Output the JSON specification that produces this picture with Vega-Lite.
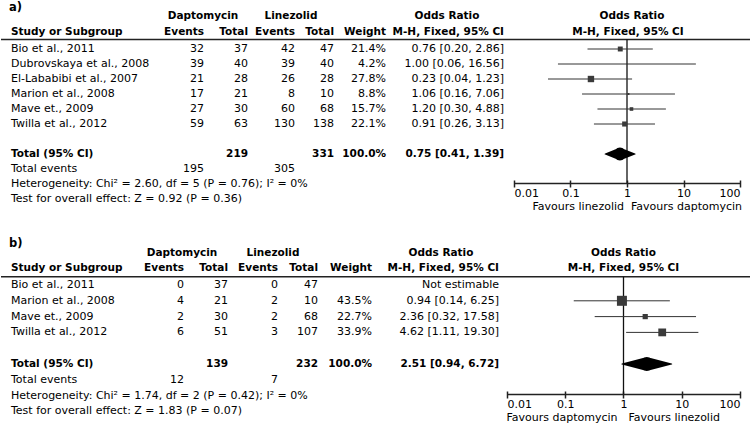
{
  "$schema": "https://vega.github.io/schema/vega-lite/v6.json",
  "padding": 0,
  "spacing": 0,
  "background": "white",
  "config": {
    "view": {"stroke": null},
    "font": "DejaVu Sans",
    "text": {"font": "DejaVu Sans", "fontSize": 11, "baseline": "middle", "color": "#000"}
  },
  "datasets": {
    "a": [
      {"row": 1, "study": "Bio et al., 2011", "dEv": 32, "dTot": 37, "lEv": 42, "lTot": 47, "weight": 0.214, "or": 0.76, "lo": 0.20, "hi": 2.86, "ci": "0.76 [0.20, 2.86]"},
      {"row": 2, "study": "Dubrovskaya et al., 2008", "dEv": 39, "dTot": 40, "lEv": 39, "lTot": 40, "weight": 0.042, "or": 1.00, "lo": 0.06, "hi": 16.56, "ci": "1.00 [0.06, 16.56]"},
      {"row": 3, "study": "El-Lababibi et al., 2007", "dEv": 21, "dTot": 28, "lEv": 26, "lTot": 28, "weight": 0.278, "or": 0.23, "lo": 0.04, "hi": 1.23, "ci": "0.23 [0.04, 1.23]"},
      {"row": 4, "study": "Marion et al., 2008", "dEv": 17, "dTot": 21, "lEv": 8, "lTot": 10, "weight": 0.088, "or": 1.06, "lo": 0.16, "hi": 7.06, "ci": "1.06 [0.16, 7.06]"},
      {"row": 5, "study": "Mave et., 2009", "dEv": 27, "dTot": 30, "lEv": 60, "lTot": 68, "weight": 0.157, "or": 1.20, "lo": 0.30, "hi": 4.88, "ci": "1.20 [0.30, 4.88]"},
      {"row": 6, "study": "Twilla et al., 2012", "dEv": 59, "dTot": 63, "lEv": 130, "lTot": 138, "weight": 0.221, "or": 0.91, "lo": 0.26, "hi": 3.13, "ci": "0.91 [0.26, 3.13]"},
      {"row": 8, "study": "Total (95% CI)", "dTot": 219, "lTot": 331, "weight": 1.0, "or": 0.75, "lo": 0.41, "hi": 1.39, "ci": "0.75 [0.41, 1.39]", "total": true},
      {"row": 9, "study": "Total events", "dEv": 195, "lEv": 305},
      {"row": 10, "study": "Heterogeneity: Chi² = 2.60, df = 5 (P = 0.76); I² = 0%"},
      {"row": 11, "study": "Test for overall effect: Z = 0.92 (P = 0.36)"}
    ],
    "b": [
      {"row": 1, "study": "Bio et al., 2011", "dEv": 0, "dTot": 37, "lEv": 0, "lTot": 47, "ci": "Not estimable"},
      {"row": 2, "study": "Marion et al., 2008", "dEv": 4, "dTot": 21, "lEv": 2, "lTot": 10, "weight": 0.435, "or": 0.94, "lo": 0.14, "hi": 6.25, "ci": "0.94 [0.14, 6.25]"},
      {"row": 3, "study": "Mave et., 2009", "dEv": 2, "dTot": 30, "lEv": 2, "lTot": 68, "weight": 0.227, "or": 2.36, "lo": 0.32, "hi": 17.58, "ci": "2.36 [0.32, 17.58]"},
      {"row": 4, "study": "Twilla et al., 2012", "dEv": 6, "dTot": 51, "lEv": 3, "lTot": 107, "weight": 0.339, "or": 4.62, "lo": 1.11, "hi": 19.30, "ci": "4.62 [1.11, 19.30]"},
      {"row": 6, "study": "Total (95% CI)", "dTot": 139, "lTot": 232, "weight": 1.0, "or": 2.51, "lo": 0.94, "hi": 6.72, "ci": "2.51 [0.94, 6.72]", "total": true},
      {"row": 7, "study": "Total events", "dEv": 12, "lEv": 7},
      {"row": 8, "study": "Heterogeneity: Chi² = 1.74, df = 2 (P = 0.42); I² = 0%"},
      {"row": 9, "study": "Test for overall effect: Z = 1.83 (P = 0.07)"}
    ]
  },
  "vconcat": [
    {
      "spacing": 0,
      "bounds": "flush",
      "hconcat": [
        {
          "width": 500,
          "height": 216,
          "data": {"name": "a"},
          "layer": [
            {"data": {"values": [{"line": "header"}]}, "mark": {"type": "rule", "color": "#222", "strokeWidth": 1.5},
             "encoding": {"y": {"datum": 0.36, "type": "quantitative", "scale": {"domain": [-2.267, 12.133], "reverse": true, "nice": false, "zero": false}, "axis": null}}},
            {"data": {"values": [{"t": "a)"}]}, "mark": {"type": "text", "align": "left", "fontWeight": "bold", "fontSize": 11.5},
             "encoding": {"x": {"datum": 8, "type": "quantitative", "scale": {"domain": [0, 500], "nice": false, "zero": false}, "axis": null},
                          "y": {"datum": -1.73, "type": "quantitative", "scale": {"domain": [-2.267, 12.133], "reverse": true, "nice": false, "zero": false}, "axis": null},
                          "text": {"field": "t"}}},
            {"data": {"values": [{"t": "Daptomycin"}]}, "mark": {"type": "text", "align": "center", "fontWeight": "bold", "fontSize": 10.5},
             "encoding": {"x": {"datum": 202, "type": "quantitative", "scale": {"domain": [0, 500], "nice": false, "zero": false}, "axis": null},
                          "y": {"datum": -1.2, "type": "quantitative", "scale": {"domain": [-2.267, 12.133], "reverse": true, "nice": false, "zero": false}, "axis": null},
                          "text": {"field": "t"}}},
            {"data": {"values": [{"t": "Linezolid"}]}, "mark": {"type": "text", "align": "center", "fontWeight": "bold", "fontSize": 10.5},
             "encoding": {"x": {"datum": 290, "type": "quantitative", "scale": {"domain": [0, 500], "nice": false, "zero": false}, "axis": null},
                          "y": {"datum": -1.2, "type": "quantitative", "scale": {"domain": [-2.267, 12.133], "reverse": true, "nice": false, "zero": false}, "axis": null},
                          "text": {"field": "t"}}},
            {"data": {"values": [{"t": "Odds Ratio"}]}, "mark": {"type": "text", "align": "center", "fontWeight": "bold", "fontSize": 10.5},
             "encoding": {"x": {"datum": 446, "type": "quantitative", "scale": {"domain": [0, 500], "nice": false, "zero": false}, "axis": null},
                          "y": {"datum": -1.2, "type": "quantitative", "scale": {"domain": [-2.267, 12.133], "reverse": true, "nice": false, "zero": false}, "axis": null},
                          "text": {"field": "t"}}},
            {"data": {"values": [{"t": "Study or Subgroup"}]}, "mark": {"type": "text", "align": "left", "fontWeight": "bold", "fontSize": 10.5},
             "encoding": {"x": {"datum": 10, "type": "quantitative", "scale": {"domain": [0, 500], "nice": false, "zero": false}, "axis": null},
                          "y": {"datum": -0.13, "type": "quantitative", "scale": {"domain": [-2.267, 12.133], "reverse": true, "nice": false, "zero": false}, "axis": null},
                          "text": {"field": "t"}}},
            {"data": {"values": [{"t": "Events"}]}, "mark": {"type": "text", "align": "right", "fontWeight": "bold", "fontSize": 10.5},
             "encoding": {"x": {"datum": 203, "type": "quantitative", "scale": {"domain": [0, 500], "nice": false, "zero": false}, "axis": null},
                          "y": {"datum": -0.13, "type": "quantitative", "scale": {"domain": [-2.267, 12.133], "reverse": true, "nice": false, "zero": false}, "axis": null},
                          "text": {"field": "t"}}},
            {"data": {"values": [{"t": "Total"}]}, "mark": {"type": "text", "align": "right", "fontWeight": "bold", "fontSize": 10.5},
             "encoding": {"x": {"datum": 247, "type": "quantitative", "scale": {"domain": [0, 500], "nice": false, "zero": false}, "axis": null},
                          "y": {"datum": -0.13, "type": "quantitative", "scale": {"domain": [-2.267, 12.133], "reverse": true, "nice": false, "zero": false}, "axis": null},
                          "text": {"field": "t"}}},
            {"data": {"values": [{"t": "Events"}]}, "mark": {"type": "text", "align": "right", "fontWeight": "bold", "fontSize": 10.5},
             "encoding": {"x": {"datum": 294, "type": "quantitative", "scale": {"domain": [0, 500], "nice": false, "zero": false}, "axis": null},
                          "y": {"datum": -0.13, "type": "quantitative", "scale": {"domain": [-2.267, 12.133], "reverse": true, "nice": false, "zero": false}, "axis": null},
                          "text": {"field": "t"}}},
            {"data": {"values": [{"t": "Total"}]}, "mark": {"type": "text", "align": "right", "fontWeight": "bold", "fontSize": 10.5},
             "encoding": {"x": {"datum": 333, "type": "quantitative", "scale": {"domain": [0, 500], "nice": false, "zero": false}, "axis": null},
                          "y": {"datum": -0.13, "type": "quantitative", "scale": {"domain": [-2.267, 12.133], "reverse": true, "nice": false, "zero": false}, "axis": null},
                          "text": {"field": "t"}}},
            {"data": {"values": [{"t": "Weight"}]}, "mark": {"type": "text", "align": "right", "fontWeight": "bold", "fontSize": 10.5},
             "encoding": {"x": {"datum": 385, "type": "quantitative", "scale": {"domain": [0, 500], "nice": false, "zero": false}, "axis": null},
                          "y": {"datum": -0.13, "type": "quantitative", "scale": {"domain": [-2.267, 12.133], "reverse": true, "nice": false, "zero": false}, "axis": null},
                          "text": {"field": "t"}}},
            {"data": {"values": [{"t": "M-H, Fixed, 95% CI"}]}, "mark": {"type": "text", "align": "right", "fontWeight": "bold", "fontSize": 10.5},
             "encoding": {"x": {"datum": 503, "type": "quantitative", "scale": {"domain": [0, 500], "nice": false, "zero": false}, "axis": null},
                          "y": {"datum": -0.13, "type": "quantitative", "scale": {"domain": [-2.267, 12.133], "reverse": true, "nice": false, "zero": false}, "axis": null},
                          "text": {"field": "t"}}},
            {"transform": [{"filter": "!datum.total"}], "mark": {"type": "text", "align": "left"},
             "encoding": {"x": {"datum": 10, "type": "quantitative", "scale": {"domain": [0, 500], "nice": false, "zero": false}, "axis": null},
                          "y": {"field": "row", "type": "quantitative", "scale": {"domain": [-2.267, 12.133], "reverse": true, "nice": false, "zero": false}, "axis": null},
                          "text": {"field": "study", "type": "nominal"}}},
            {"transform": [{"filter": "datum.total"}], "mark": {"type": "text", "align": "left", "fontWeight": "bold", "fontSize": 10.5},
             "encoding": {"x": {"datum": 10, "type": "quantitative", "scale": {"domain": [0, 500], "nice": false, "zero": false}, "axis": null},
                          "y": {"field": "row", "type": "quantitative", "scale": {"domain": [-2.267, 12.133], "reverse": true, "nice": false, "zero": false}, "axis": null},
                          "text": {"field": "study", "type": "nominal"}}},
            {"transform": [{"filter": "isValid(datum.dEv)"}], "mark": {"type": "text", "align": "right"},
             "encoding": {"x": {"datum": 203, "type": "quantitative", "scale": {"domain": [0, 500], "nice": false, "zero": false}, "axis": null},
                          "y": {"field": "row", "type": "quantitative", "scale": {"domain": [-2.267, 12.133], "reverse": true, "nice": false, "zero": false}, "axis": null},
                          "text": {"field": "dEv", "type": "quantitative", "format": "d"}}},
            {"transform": [{"filter": "isValid(datum.dTot) && !datum.total"}], "mark": {"type": "text", "align": "right"},
             "encoding": {"x": {"datum": 247, "type": "quantitative", "scale": {"domain": [0, 500], "nice": false, "zero": false}, "axis": null},
                          "y": {"field": "row", "type": "quantitative", "scale": {"domain": [-2.267, 12.133], "reverse": true, "nice": false, "zero": false}, "axis": null},
                          "text": {"field": "dTot", "type": "quantitative", "format": "d"}}},
            {"transform": [{"filter": "datum.total"}], "mark": {"type": "text", "align": "right", "fontWeight": "bold", "fontSize": 10.5},
             "encoding": {"x": {"datum": 247, "type": "quantitative", "scale": {"domain": [0, 500], "nice": false, "zero": false}, "axis": null},
                          "y": {"field": "row", "type": "quantitative", "scale": {"domain": [-2.267, 12.133], "reverse": true, "nice": false, "zero": false}, "axis": null},
                          "text": {"field": "dTot", "type": "quantitative", "format": "d"}}},
            {"transform": [{"filter": "isValid(datum.lEv)"}], "mark": {"type": "text", "align": "right"},
             "encoding": {"x": {"datum": 294, "type": "quantitative", "scale": {"domain": [0, 500], "nice": false, "zero": false}, "axis": null},
                          "y": {"field": "row", "type": "quantitative", "scale": {"domain": [-2.267, 12.133], "reverse": true, "nice": false, "zero": false}, "axis": null},
                          "text": {"field": "lEv", "type": "quantitative", "format": "d"}}},
            {"transform": [{"filter": "isValid(datum.lTot) && !datum.total"}], "mark": {"type": "text", "align": "right"},
             "encoding": {"x": {"datum": 333, "type": "quantitative", "scale": {"domain": [0, 500], "nice": false, "zero": false}, "axis": null},
                          "y": {"field": "row", "type": "quantitative", "scale": {"domain": [-2.267, 12.133], "reverse": true, "nice": false, "zero": false}, "axis": null},
                          "text": {"field": "lTot", "type": "quantitative", "format": "d"}}},
            {"transform": [{"filter": "datum.total"}], "mark": {"type": "text", "align": "right", "fontWeight": "bold", "fontSize": 10.5},
             "encoding": {"x": {"datum": 333, "type": "quantitative", "scale": {"domain": [0, 500], "nice": false, "zero": false}, "axis": null},
                          "y": {"field": "row", "type": "quantitative", "scale": {"domain": [-2.267, 12.133], "reverse": true, "nice": false, "zero": false}, "axis": null},
                          "text": {"field": "lTot", "type": "quantitative", "format": "d"}}},
            {"transform": [{"filter": "isValid(datum.weight) && !datum.total"}], "mark": {"type": "text", "align": "right"},
             "encoding": {"x": {"datum": 385, "type": "quantitative", "scale": {"domain": [0, 500], "nice": false, "zero": false}, "axis": null},
                          "y": {"field": "row", "type": "quantitative", "scale": {"domain": [-2.267, 12.133], "reverse": true, "nice": false, "zero": false}, "axis": null},
                          "text": {"field": "weight", "type": "quantitative", "format": ".1%"}}},
            {"transform": [{"filter": "datum.total"}], "mark": {"type": "text", "align": "right", "fontWeight": "bold", "fontSize": 10.5},
             "encoding": {"x": {"datum": 385, "type": "quantitative", "scale": {"domain": [0, 500], "nice": false, "zero": false}, "axis": null},
                          "y": {"field": "row", "type": "quantitative", "scale": {"domain": [-2.267, 12.133], "reverse": true, "nice": false, "zero": false}, "axis": null},
                          "text": {"field": "weight", "type": "quantitative", "format": ".1%"}}},
            {"transform": [{"filter": "isValid(datum.ci) && !datum.total"}], "mark": {"type": "text", "align": "right"},
             "encoding": {"x": {"datum": 503, "type": "quantitative", "scale": {"domain": [0, 500], "nice": false, "zero": false}, "axis": null},
                          "y": {"field": "row", "type": "quantitative", "scale": {"domain": [-2.267, 12.133], "reverse": true, "nice": false, "zero": false}, "axis": null},
                          "text": {"field": "ci", "type": "nominal"}}},
            {"transform": [{"filter": "datum.total"}], "mark": {"type": "text", "align": "right", "fontWeight": "bold", "fontSize": 10.5},
             "encoding": {"x": {"datum": 503, "type": "quantitative", "scale": {"domain": [0, 500], "nice": false, "zero": false}, "axis": null},
                          "y": {"field": "row", "type": "quantitative", "scale": {"domain": [-2.267, 12.133], "reverse": true, "nice": false, "zero": false}, "axis": null},
                          "text": {"field": "ci", "type": "nominal"}}}
          ]
        },
        {
          "width": 250,
          "height": 180,
          "data": {"name": "a"},
          "layer": [
            {"data": {"values": [{"line": "header"}]}, "mark": {"type": "rule", "color": "#222", "strokeWidth": 1.5},
             "encoding": {"y": {"datum": 0.36, "type": "quantitative", "scale": {"domain": [-2.267, 9.733], "reverse": true, "nice": false, "zero": false}, "axis": null}}},
            {"data": {"values": [{"t": "Odds Ratio"}]}, "mark": {"type": "text", "align": "center", "fontWeight": "bold", "fontSize": 10.5, "dx": 5},
             "encoding": {"x": {"datum": 1, "type": "quantitative", "scale": {"type": "log", "domain": [0.005888, 156.55], "nice": false},
                                "axis": {"orient": "bottom", "values": [0.01, 0.1, 1, 10, 100], "format": "~g", "domain": false, "grid": false, "ticks": true, "tickSize": 7, "tickWidth": 1.5, "tickColor": "#222", "labelFlush": 15, "labelFontSize": 11, "labelColor": "#000", "labelPadding": 0, "labelFont": "DejaVu Sans", "labelOverlap": false, "title": null}},
                          "y": {"datum": -1.2, "type": "quantitative", "scale": {"domain": [-2.267, 9.733], "reverse": true, "nice": false, "zero": false}, "axis": null},
                          "text": {"field": "t"}}},
            {"data": {"values": [{"t": "M-H, Fixed, 95% CI"}]}, "mark": {"type": "text", "align": "center", "fontWeight": "bold", "fontSize": 10.5, "dx": 1},
             "encoding": {"x": {"datum": 1, "type": "quantitative", "scale": {"type": "log", "domain": [0.005888, 156.55], "nice": false},
                                "axis": {"orient": "bottom", "values": [0.01, 0.1, 1, 10, 100], "format": "~g", "domain": false, "grid": false, "ticks": true, "tickSize": 7, "tickWidth": 1.5, "tickColor": "#222", "labelFlush": 15, "labelFontSize": 11, "labelColor": "#000", "labelPadding": 0, "labelFont": "DejaVu Sans", "labelOverlap": false, "title": null}},
                          "y": {"datum": -0.13, "type": "quantitative", "scale": {"domain": [-2.267, 9.733], "reverse": true, "nice": false, "zero": false}, "axis": null},
                          "text": {"field": "t"}}},
            {"data": {"values": [{"ref": 1}]}, "mark": {"type": "rule", "color": "#111", "strokeWidth": 1.3},
             "encoding": {"x": {"field": "ref", "type": "quantitative", "scale": {"type": "log", "domain": [0.005888, 156.55], "nice": false},
                                "axis": {"orient": "bottom", "values": [0.01, 0.1, 1, 10, 100], "format": "~g", "domain": false, "grid": false, "ticks": true, "tickSize": 7, "tickWidth": 1.5, "tickColor": "#222", "labelFlush": 15, "labelFontSize": 11, "labelColor": "#000", "labelPadding": 0, "labelFont": "DejaVu Sans", "labelOverlap": false, "title": null}},
                          "y": {"datum": 0.36, "type": "quantitative", "scale": {"domain": [-2.267, 9.733], "reverse": true, "nice": false, "zero": false}, "axis": null},
                          "y2": {"datum": 9.97}}},
            {"data": {"values": [{"from": 0.01, "to": 100}]}, "mark": {"type": "rule", "color": "#222", "strokeWidth": 1.5},
             "encoding": {"x": {"field": "from", "type": "quantitative", "scale": {"type": "log", "domain": [0.005888, 156.55], "nice": false},
                                "axis": {"orient": "bottom", "values": [0.01, 0.1, 1, 10, 100], "format": "~g", "domain": false, "grid": false, "ticks": true, "tickSize": 7, "tickWidth": 1.5, "tickColor": "#222", "labelFlush": 15, "labelFontSize": 11, "labelColor": "#000", "labelPadding": 0, "labelFont": "DejaVu Sans", "labelOverlap": false, "title": null}},
                          "x2": {"field": "to"},
                          "y": {"datum": 9.97, "type": "quantitative", "scale": {"domain": [-2.267, 9.733], "reverse": true, "nice": false, "zero": false}, "axis": null}}},
            {"transform": [{"filter": "isValid(datum.or) && !datum.total"}], "mark": {"type": "rule", "color": "#333", "strokeWidth": 1},
             "encoding": {"x": {"field": "lo", "type": "quantitative", "scale": {"type": "log", "domain": [0.005888, 156.55], "nice": false},
                                "axis": {"orient": "bottom", "values": [0.01, 0.1, 1, 10, 100], "format": "~g", "domain": false, "grid": false, "ticks": true, "tickSize": 7, "tickWidth": 1.5, "tickColor": "#222", "labelFlush": 15, "labelFontSize": 11, "labelColor": "#000", "labelPadding": 0, "labelFont": "DejaVu Sans", "labelOverlap": false, "title": null}},
                          "x2": {"field": "hi"},
                          "y": {"field": "row", "type": "quantitative", "scale": {"domain": [-2.267, 9.733], "reverse": true, "nice": false, "zero": false}, "axis": null}}},
            {"transform": [{"filter": "isValid(datum.or) && !datum.total"}], "mark": {"type": "square", "color": "#3a3a3a", "opacity": 1},
             "encoding": {"x": {"field": "or", "type": "quantitative", "scale": {"type": "log", "domain": [0.005888, 156.55], "nice": false},
                                "axis": {"orient": "bottom", "values": [0.01, 0.1, 1, 10, 100], "format": "~g", "domain": false, "grid": false, "ticks": true, "tickSize": 7, "tickWidth": 1.5, "tickColor": "#222", "labelFlush": 15, "labelFontSize": 11, "labelColor": "#000", "labelPadding": 0, "labelFont": "DejaVu Sans", "labelOverlap": false, "title": null}},
                          "y": {"field": "row", "type": "quantitative", "scale": {"domain": [-2.267, 9.733], "reverse": true, "nice": false, "zero": false}, "axis": null},
                          "size": {"field": "weight", "type": "quantitative", "scale": {"type": "pow", "exponent": 2, "domain": [0, 1], "range": [0, 529]}, "legend": null}}},
            {"transform": [{"filter": "datum.total"}, {"fold": ["lo", "or", "hi"], "as": ["k", "v"]}], "mark": {"type": "trail", "color": "#000"},
             "encoding": {"x": {"field": "v", "type": "quantitative", "scale": {"type": "log", "domain": [0.005888, 156.55], "nice": false},
                                "axis": {"orient": "bottom", "values": [0.01, 0.1, 1, 10, 100], "format": "~g", "domain": false, "grid": false, "ticks": true, "tickSize": 7, "tickWidth": 1.5, "tickColor": "#222", "labelFlush": 15, "labelFontSize": 11, "labelColor": "#000", "labelPadding": 0, "labelFont": "DejaVu Sans", "labelOverlap": false, "title": null}},
                          "y": {"field": "row", "type": "quantitative", "scale": {"domain": [-2.267, 9.733], "reverse": true, "nice": false, "zero": false}, "axis": null},
                          "size": {"condition": {"test": "datum.k === 'or'", "value": 13}, "value": 0}}},
            {"data": {"values": [{"t": "Favours linezolid"}]}, "mark": {"type": "text", "align": "right", "dx": -3},
             "encoding": {"x": {"datum": 1, "type": "quantitative", "scale": {"type": "log", "domain": [0.005888, 156.55], "nice": false},
                                "axis": {"orient": "bottom", "values": [0.01, 0.1, 1, 10, 100], "format": "~g", "domain": false, "grid": false, "ticks": true, "tickSize": 7, "tickWidth": 1.5, "tickColor": "#222", "labelFlush": 15, "labelFontSize": 11, "labelColor": "#000", "labelPadding": 0, "labelFont": "DejaVu Sans", "labelOverlap": false, "title": null}},
                          "y": {"datum": 11.5, "type": "quantitative", "scale": {"domain": [-2.267, 9.733], "reverse": true, "nice": false, "zero": false}, "axis": null},
                          "text": {"field": "t"}}},
            {"data": {"values": [{"t": "Favours daptomycin"}]}, "mark": {"type": "text", "align": "left", "dx": 4},
             "encoding": {"x": {"datum": 1, "type": "quantitative", "scale": {"type": "log", "domain": [0.005888, 156.55], "nice": false},
                                "axis": {"orient": "bottom", "values": [0.01, 0.1, 1, 10, 100], "format": "~g", "domain": false, "grid": false, "ticks": true, "tickSize": 7, "tickWidth": 1.5, "tickColor": "#222", "labelFlush": 15, "labelFontSize": 11, "labelColor": "#000", "labelPadding": 0, "labelFont": "DejaVu Sans", "labelOverlap": false, "title": null}},
                          "y": {"datum": 11.5, "type": "quantitative", "scale": {"domain": [-2.267, 9.733], "reverse": true, "nice": false, "zero": false}, "axis": null},
                          "text": {"field": "t"}}}
          ]
        }
      ]
    },
    {
      "spacing": 0,
      "bounds": "flush",
      "hconcat": [
        {
          "width": 500,
          "height": 209,
          "data": {"name": "b"},
          "layer": [
            {"data": {"values": [{"line": "header"}]}, "mark": {"type": "rule", "color": "#222", "strokeWidth": 1.5},
             "encoding": {"y": {"datum": 0.48, "type": "quantitative", "scale": {"domain": [-3.367, 9.861], "reverse": true, "nice": false, "zero": false}, "axis": null}}},
            {"data": {"values": [{"t": "b)"}]}, "mark": {"type": "text", "align": "left", "fontWeight": "bold", "fontSize": 11.5},
             "encoding": {"x": {"datum": 8, "type": "quantitative", "scale": {"domain": [0, 500], "nice": false, "zero": false}, "axis": null},
                          "y": {"datum": -1.62, "type": "quantitative", "scale": {"domain": [-3.367, 9.861], "reverse": true, "nice": false, "zero": false}, "axis": null},
                          "text": {"field": "t"}}},
            {"data": {"values": [{"t": "Daptomycin"}]}, "mark": {"type": "text", "align": "center", "fontWeight": "bold", "fontSize": 10.5},
             "encoding": {"x": {"datum": 181, "type": "quantitative", "scale": {"domain": [0, 500], "nice": false, "zero": false}, "axis": null},
                          "y": {"datum": -1.03, "type": "quantitative", "scale": {"domain": [-3.367, 9.861], "reverse": true, "nice": false, "zero": false}, "axis": null},
                          "text": {"field": "t"}}},
            {"data": {"values": [{"t": "Linezolid"}]}, "mark": {"type": "text", "align": "center", "fontWeight": "bold", "fontSize": 10.5},
             "encoding": {"x": {"datum": 272, "type": "quantitative", "scale": {"domain": [0, 500], "nice": false, "zero": false}, "axis": null},
                          "y": {"datum": -1.03, "type": "quantitative", "scale": {"domain": [-3.367, 9.861], "reverse": true, "nice": false, "zero": false}, "axis": null},
                          "text": {"field": "t"}}},
            {"data": {"values": [{"t": "Odds Ratio"}]}, "mark": {"type": "text", "align": "center", "fontWeight": "bold", "fontSize": 10.5},
             "encoding": {"x": {"datum": 440, "type": "quantitative", "scale": {"domain": [0, 500], "nice": false, "zero": false}, "axis": null},
                          "y": {"datum": -1.03, "type": "quantitative", "scale": {"domain": [-3.367, 9.861], "reverse": true, "nice": false, "zero": false}, "axis": null},
                          "text": {"field": "t"}}},
            {"data": {"values": [{"t": "Study or Subgroup"}]}, "mark": {"type": "text", "align": "left", "fontWeight": "bold", "fontSize": 10.5},
             "encoding": {"x": {"datum": 10, "type": "quantitative", "scale": {"domain": [0, 500], "nice": false, "zero": false}, "axis": null},
                          "y": {"datum": -0.08, "type": "quantitative", "scale": {"domain": [-3.367, 9.861], "reverse": true, "nice": false, "zero": false}, "axis": null},
                          "text": {"field": "t"}}},
            {"data": {"values": [{"t": "Events"}]}, "mark": {"type": "text", "align": "right", "fontWeight": "bold", "fontSize": 10.5},
             "encoding": {"x": {"datum": 183, "type": "quantitative", "scale": {"domain": [0, 500], "nice": false, "zero": false}, "axis": null},
                          "y": {"datum": -0.08, "type": "quantitative", "scale": {"domain": [-3.367, 9.861], "reverse": true, "nice": false, "zero": false}, "axis": null},
                          "text": {"field": "t"}}},
            {"data": {"values": [{"t": "Total"}]}, "mark": {"type": "text", "align": "right", "fontWeight": "bold", "fontSize": 10.5},
             "encoding": {"x": {"datum": 227, "type": "quantitative", "scale": {"domain": [0, 500], "nice": false, "zero": false}, "axis": null},
                          "y": {"datum": -0.08, "type": "quantitative", "scale": {"domain": [-3.367, 9.861], "reverse": true, "nice": false, "zero": false}, "axis": null},
                          "text": {"field": "t"}}},
            {"data": {"values": [{"t": "Events"}]}, "mark": {"type": "text", "align": "right", "fontWeight": "bold", "fontSize": 10.5},
             "encoding": {"x": {"datum": 277, "type": "quantitative", "scale": {"domain": [0, 500], "nice": false, "zero": false}, "axis": null},
                          "y": {"datum": -0.08, "type": "quantitative", "scale": {"domain": [-3.367, 9.861], "reverse": true, "nice": false, "zero": false}, "axis": null},
                          "text": {"field": "t"}}},
            {"data": {"values": [{"t": "Total"}]}, "mark": {"type": "text", "align": "right", "fontWeight": "bold", "fontSize": 10.5},
             "encoding": {"x": {"datum": 317, "type": "quantitative", "scale": {"domain": [0, 500], "nice": false, "zero": false}, "axis": null},
                          "y": {"datum": -0.08, "type": "quantitative", "scale": {"domain": [-3.367, 9.861], "reverse": true, "nice": false, "zero": false}, "axis": null},
                          "text": {"field": "t"}}},
            {"data": {"values": [{"t": "Weight"}]}, "mark": {"type": "text", "align": "right", "fontWeight": "bold", "fontSize": 10.5},
             "encoding": {"x": {"datum": 371, "type": "quantitative", "scale": {"domain": [0, 500], "nice": false, "zero": false}, "axis": null},
                          "y": {"datum": -0.08, "type": "quantitative", "scale": {"domain": [-3.367, 9.861], "reverse": true, "nice": false, "zero": false}, "axis": null},
                          "text": {"field": "t"}}},
            {"data": {"values": [{"t": "M-H, Fixed, 95% CI"}]}, "mark": {"type": "text", "align": "right", "fontWeight": "bold", "fontSize": 10.5},
             "encoding": {"x": {"datum": 498, "type": "quantitative", "scale": {"domain": [0, 500], "nice": false, "zero": false}, "axis": null},
                          "y": {"datum": -0.08, "type": "quantitative", "scale": {"domain": [-3.367, 9.861], "reverse": true, "nice": false, "zero": false}, "axis": null},
                          "text": {"field": "t"}}},
            {"transform": [{"filter": "!datum.total"}], "mark": {"type": "text", "align": "left"},
             "encoding": {"x": {"datum": 10, "type": "quantitative", "scale": {"domain": [0, 500], "nice": false, "zero": false}, "axis": null},
                          "y": {"field": "row", "type": "quantitative", "scale": {"domain": [-3.367, 9.861], "reverse": true, "nice": false, "zero": false}, "axis": null},
                          "text": {"field": "study", "type": "nominal"}}},
            {"transform": [{"filter": "datum.total"}], "mark": {"type": "text", "align": "left", "fontWeight": "bold", "fontSize": 10.5},
             "encoding": {"x": {"datum": 10, "type": "quantitative", "scale": {"domain": [0, 500], "nice": false, "zero": false}, "axis": null},
                          "y": {"field": "row", "type": "quantitative", "scale": {"domain": [-3.367, 9.861], "reverse": true, "nice": false, "zero": false}, "axis": null},
                          "text": {"field": "study", "type": "nominal"}}},
            {"transform": [{"filter": "isValid(datum.dEv)"}], "mark": {"type": "text", "align": "right"},
             "encoding": {"x": {"datum": 183, "type": "quantitative", "scale": {"domain": [0, 500], "nice": false, "zero": false}, "axis": null},
                          "y": {"field": "row", "type": "quantitative", "scale": {"domain": [-3.367, 9.861], "reverse": true, "nice": false, "zero": false}, "axis": null},
                          "text": {"field": "dEv", "type": "quantitative", "format": "d"}}},
            {"transform": [{"filter": "isValid(datum.dTot) && !datum.total"}], "mark": {"type": "text", "align": "right"},
             "encoding": {"x": {"datum": 227, "type": "quantitative", "scale": {"domain": [0, 500], "nice": false, "zero": false}, "axis": null},
                          "y": {"field": "row", "type": "quantitative", "scale": {"domain": [-3.367, 9.861], "reverse": true, "nice": false, "zero": false}, "axis": null},
                          "text": {"field": "dTot", "type": "quantitative", "format": "d"}}},
            {"transform": [{"filter": "datum.total"}], "mark": {"type": "text", "align": "right", "fontWeight": "bold", "fontSize": 10.5},
             "encoding": {"x": {"datum": 227, "type": "quantitative", "scale": {"domain": [0, 500], "nice": false, "zero": false}, "axis": null},
                          "y": {"field": "row", "type": "quantitative", "scale": {"domain": [-3.367, 9.861], "reverse": true, "nice": false, "zero": false}, "axis": null},
                          "text": {"field": "dTot", "type": "quantitative", "format": "d"}}},
            {"transform": [{"filter": "isValid(datum.lEv)"}], "mark": {"type": "text", "align": "right"},
             "encoding": {"x": {"datum": 277, "type": "quantitative", "scale": {"domain": [0, 500], "nice": false, "zero": false}, "axis": null},
                          "y": {"field": "row", "type": "quantitative", "scale": {"domain": [-3.367, 9.861], "reverse": true, "nice": false, "zero": false}, "axis": null},
                          "text": {"field": "lEv", "type": "quantitative", "format": "d"}}},
            {"transform": [{"filter": "isValid(datum.lTot) && !datum.total"}], "mark": {"type": "text", "align": "right"},
             "encoding": {"x": {"datum": 317, "type": "quantitative", "scale": {"domain": [0, 500], "nice": false, "zero": false}, "axis": null},
                          "y": {"field": "row", "type": "quantitative", "scale": {"domain": [-3.367, 9.861], "reverse": true, "nice": false, "zero": false}, "axis": null},
                          "text": {"field": "lTot", "type": "quantitative", "format": "d"}}},
            {"transform": [{"filter": "datum.total"}], "mark": {"type": "text", "align": "right", "fontWeight": "bold", "fontSize": 10.5},
             "encoding": {"x": {"datum": 317, "type": "quantitative", "scale": {"domain": [0, 500], "nice": false, "zero": false}, "axis": null},
                          "y": {"field": "row", "type": "quantitative", "scale": {"domain": [-3.367, 9.861], "reverse": true, "nice": false, "zero": false}, "axis": null},
                          "text": {"field": "lTot", "type": "quantitative", "format": "d"}}},
            {"transform": [{"filter": "isValid(datum.weight) && !datum.total"}], "mark": {"type": "text", "align": "right"},
             "encoding": {"x": {"datum": 371, "type": "quantitative", "scale": {"domain": [0, 500], "nice": false, "zero": false}, "axis": null},
                          "y": {"field": "row", "type": "quantitative", "scale": {"domain": [-3.367, 9.861], "reverse": true, "nice": false, "zero": false}, "axis": null},
                          "text": {"field": "weight", "type": "quantitative", "format": ".1%"}}},
            {"transform": [{"filter": "datum.total"}], "mark": {"type": "text", "align": "right", "fontWeight": "bold", "fontSize": 10.5},
             "encoding": {"x": {"datum": 371, "type": "quantitative", "scale": {"domain": [0, 500], "nice": false, "zero": false}, "axis": null},
                          "y": {"field": "row", "type": "quantitative", "scale": {"domain": [-3.367, 9.861], "reverse": true, "nice": false, "zero": false}, "axis": null},
                          "text": {"field": "weight", "type": "quantitative", "format": ".1%"}}},
            {"transform": [{"filter": "isValid(datum.ci) && !datum.total"}], "mark": {"type": "text", "align": "right"},
             "encoding": {"x": {"datum": 498, "type": "quantitative", "scale": {"domain": [0, 500], "nice": false, "zero": false}, "axis": null},
                          "y": {"field": "row", "type": "quantitative", "scale": {"domain": [-3.367, 9.861], "reverse": true, "nice": false, "zero": false}, "axis": null},
                          "text": {"field": "ci", "type": "nominal"}}},
            {"transform": [{"filter": "datum.total"}], "mark": {"type": "text", "align": "right", "fontWeight": "bold", "fontSize": 10.5},
             "encoding": {"x": {"datum": 498, "type": "quantitative", "scale": {"domain": [0, 500], "nice": false, "zero": false}, "axis": null},
                          "y": {"field": "row", "type": "quantitative", "scale": {"domain": [-3.367, 9.861], "reverse": true, "nice": false, "zero": false}, "axis": null},
                          "text": {"field": "ci", "type": "nominal"}}}
          ]
        },
        {
          "width": 250,
          "height": 175,
          "data": {"name": "b"},
          "layer": [
            {"data": {"values": [{"line": "header"}]}, "mark": {"type": "rule", "color": "#222", "strokeWidth": 1.5},
             "encoding": {"y": {"datum": 0.48, "type": "quantitative", "scale": {"domain": [-3.367, 7.709], "reverse": true, "nice": false, "zero": false}, "axis": null}}},
            {"data": {"values": [{"t": "Odds Ratio"}]}, "mark": {"type": "text", "align": "center", "fontWeight": "bold", "fontSize": 10.5},
             "encoding": {"x": {"datum": 1, "type": "quantitative", "scale": {"type": "log", "domain": [0.007888, 154.5], "nice": false},
                                "axis": {"orient": "bottom", "values": [0.01, 0.1, 1, 10, 100], "format": "~g", "domain": false, "grid": false, "ticks": true, "tickSize": 7, "tickWidth": 1.5, "tickColor": "#222", "labelFlush": 15, "labelFontSize": 11, "labelColor": "#000", "labelPadding": 0, "labelFont": "DejaVu Sans", "labelOverlap": false, "title": null}},
                          "y": {"datum": -1.03, "type": "quantitative", "scale": {"domain": [-3.367, 7.709], "reverse": true, "nice": false, "zero": false}, "axis": null},
                          "text": {"field": "t"}}},
            {"data": {"values": [{"t": "M-H, Fixed, 95% CI"}]}, "mark": {"type": "text", "align": "center", "fontWeight": "bold", "fontSize": 10.5},
             "encoding": {"x": {"datum": 1, "type": "quantitative", "scale": {"type": "log", "domain": [0.007888, 154.5], "nice": false},
                                "axis": {"orient": "bottom", "values": [0.01, 0.1, 1, 10, 100], "format": "~g", "domain": false, "grid": false, "ticks": true, "tickSize": 7, "tickWidth": 1.5, "tickColor": "#222", "labelFlush": 15, "labelFontSize": 11, "labelColor": "#000", "labelPadding": 0, "labelFont": "DejaVu Sans", "labelOverlap": false, "title": null}},
                          "y": {"datum": -0.08, "type": "quantitative", "scale": {"domain": [-3.367, 7.709], "reverse": true, "nice": false, "zero": false}, "axis": null},
                          "text": {"field": "t"}}},
            {"data": {"values": [{"ref": 1}]}, "mark": {"type": "rule", "color": "#111", "strokeWidth": 1.3},
             "encoding": {"x": {"field": "ref", "type": "quantitative", "scale": {"type": "log", "domain": [0.007888, 154.5], "nice": false},
                                "axis": {"orient": "bottom", "values": [0.01, 0.1, 1, 10, 100], "format": "~g", "domain": false, "grid": false, "ticks": true, "tickSize": 7, "tickWidth": 1.5, "tickColor": "#222", "labelFlush": 15, "labelFontSize": 11, "labelColor": "#000", "labelPadding": 0, "labelFont": "DejaVu Sans", "labelOverlap": false, "title": null}},
                          "y": {"datum": 0.48, "type": "quantitative", "scale": {"domain": [-3.367, 7.709], "reverse": true, "nice": false, "zero": false}, "axis": null},
                          "y2": {"datum": 7.93}}},
            {"data": {"values": [{"from": 0.01, "to": 100}]}, "mark": {"type": "rule", "color": "#222", "strokeWidth": 1.5},
             "encoding": {"x": {"field": "from", "type": "quantitative", "scale": {"type": "log", "domain": [0.007888, 154.5], "nice": false},
                                "axis": {"orient": "bottom", "values": [0.01, 0.1, 1, 10, 100], "format": "~g", "domain": false, "grid": false, "ticks": true, "tickSize": 7, "tickWidth": 1.5, "tickColor": "#222", "labelFlush": 15, "labelFontSize": 11, "labelColor": "#000", "labelPadding": 0, "labelFont": "DejaVu Sans", "labelOverlap": false, "title": null}},
                          "x2": {"field": "to"},
                          "y": {"datum": 7.93, "type": "quantitative", "scale": {"domain": [-3.367, 7.709], "reverse": true, "nice": false, "zero": false}, "axis": null}}},
            {"transform": [{"filter": "isValid(datum.or) && !datum.total"}], "mark": {"type": "rule", "color": "#333", "strokeWidth": 1},
             "encoding": {"x": {"field": "lo", "type": "quantitative", "scale": {"type": "log", "domain": [0.007888, 154.5], "nice": false},
                                "axis": {"orient": "bottom", "values": [0.01, 0.1, 1, 10, 100], "format": "~g", "domain": false, "grid": false, "ticks": true, "tickSize": 7, "tickWidth": 1.5, "tickColor": "#222", "labelFlush": 15, "labelFontSize": 11, "labelColor": "#000", "labelPadding": 0, "labelFont": "DejaVu Sans", "labelOverlap": false, "title": null}},
                          "x2": {"field": "hi"},
                          "y": {"field": "row", "type": "quantitative", "scale": {"domain": [-3.367, 7.709], "reverse": true, "nice": false, "zero": false}, "axis": null}}},
            {"transform": [{"filter": "isValid(datum.or) && !datum.total"}], "mark": {"type": "square", "color": "#3a3a3a", "opacity": 1},
             "encoding": {"x": {"field": "or", "type": "quantitative", "scale": {"type": "log", "domain": [0.007888, 154.5], "nice": false},
                                "axis": {"orient": "bottom", "values": [0.01, 0.1, 1, 10, 100], "format": "~g", "domain": false, "grid": false, "ticks": true, "tickSize": 7, "tickWidth": 1.5, "tickColor": "#222", "labelFlush": 15, "labelFontSize": 11, "labelColor": "#000", "labelPadding": 0, "labelFont": "DejaVu Sans", "labelOverlap": false, "title": null}},
                          "y": {"field": "row", "type": "quantitative", "scale": {"domain": [-3.367, 7.709], "reverse": true, "nice": false, "zero": false}, "axis": null},
                          "size": {"field": "weight", "type": "quantitative", "scale": {"type": "pow", "exponent": 2, "domain": [0, 1], "range": [0, 529]}, "legend": null}}},
            {"transform": [{"filter": "datum.total"}, {"fold": ["lo", "or", "hi"], "as": ["k", "v"]}], "mark": {"type": "trail", "color": "#000"},
             "encoding": {"x": {"field": "v", "type": "quantitative", "scale": {"type": "log", "domain": [0.007888, 154.5], "nice": false},
                                "axis": {"orient": "bottom", "values": [0.01, 0.1, 1, 10, 100], "format": "~g", "domain": false, "grid": false, "ticks": true, "tickSize": 7, "tickWidth": 1.5, "tickColor": "#222", "labelFlush": 15, "labelFontSize": 11, "labelColor": "#000", "labelPadding": 0, "labelFont": "DejaVu Sans", "labelOverlap": false, "title": null}},
                          "y": {"field": "row", "type": "quantitative", "scale": {"domain": [-3.367, 7.709], "reverse": true, "nice": false, "zero": false}, "axis": null},
                          "size": {"condition": {"test": "datum.k === 'or'", "value": 14}, "value": 0}}},
            {"data": {"values": [{"t": "Favours daptomycin"}]}, "mark": {"type": "text", "align": "right", "dx": -6},
             "encoding": {"x": {"datum": 1, "type": "quantitative", "scale": {"type": "log", "domain": [0.007888, 154.5], "nice": false},
                                "axis": {"orient": "bottom", "values": [0.01, 0.1, 1, 10, 100], "format": "~g", "domain": false, "grid": false, "ticks": true, "tickSize": 7, "tickWidth": 1.5, "tickColor": "#222", "labelFlush": 15, "labelFontSize": 11, "labelColor": "#000", "labelPadding": 0, "labelFont": "DejaVu Sans", "labelOverlap": false, "title": null}},
                          "y": {"datum": 9.42, "type": "quantitative", "scale": {"domain": [-3.367, 7.709], "reverse": true, "nice": false, "zero": false}, "axis": null},
                          "text": {"field": "t"}}},
            {"data": {"values": [{"t": "Favours linezolid"}]}, "mark": {"type": "text", "align": "left", "dx": 5},
             "encoding": {"x": {"datum": 1, "type": "quantitative", "scale": {"type": "log", "domain": [0.007888, 154.5], "nice": false},
                                "axis": {"orient": "bottom", "values": [0.01, 0.1, 1, 10, 100], "format": "~g", "domain": false, "grid": false, "ticks": true, "tickSize": 7, "tickWidth": 1.5, "tickColor": "#222", "labelFlush": 15, "labelFontSize": 11, "labelColor": "#000", "labelPadding": 0, "labelFont": "DejaVu Sans", "labelOverlap": false, "title": null}},
                          "y": {"datum": 9.42, "type": "quantitative", "scale": {"domain": [-3.367, 7.709], "reverse": true, "nice": false, "zero": false}, "axis": null},
                          "text": {"field": "t"}}}
          ]
        }
      ]
    }
  ]
}
